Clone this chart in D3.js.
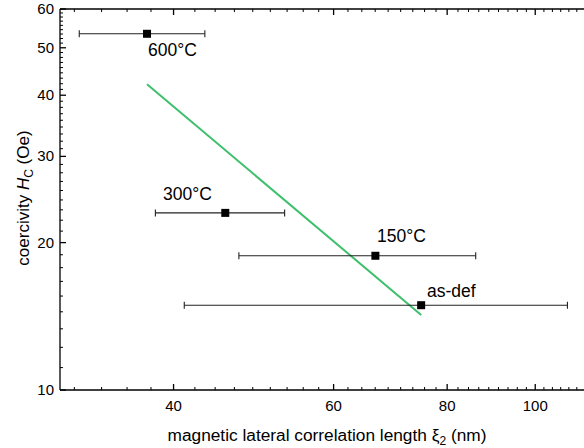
<!DOCTYPE html>
<html>
<head>
<meta charset="utf-8">
<script src="https://cdn.jsdelivr.net/npm/d3@7"></script>
<style>
  body { margin: 0; background: #fff; }
  svg { display: block; font-family: "Liberation Sans", Arial, sans-serif; }
</style>
</head>
<body>
<div id="chart"></div>
<script>
var width = 584, height = 448;

// data
var labels = ["600°C", "300°C", "150°C", "as-def"];
var xi2 = [37.4, 45.6, 66.7, 74.9];          // nm
var xiLow = [31.5, 38.2, 47.2, 41.1];
var xiHigh = [43.3, 53.0, 86.0, 108.5];
var hc = [53.4, 23.0, 18.8, 14.9];           // Oe
var fitX = [37.4, 74.9];
var fitY = [42.1, 14.23];

var xTicks = [40, 60, 80, 100];
var yTicks = [10, 20, 30, 40, 50, 60];

var svg = d3.select("#chart").append("svg").attr("width", width).attr("height", height);

var x = d3.scaleLog().domain([30, 120]).range([60, 607.2]);
var y = d3.scaleLog().domain([10, 60]).range([390, 9]);

// minor ticks: 8 between every pair of majors
var xMinor = [];
for (var m = 20; m < 120; m += 20) {
  for (var i = 1; i <= 8; i++) {
    var v = m + i * 20 / 9;
    if (v > 30 && v < 120) xMinor.push(v);
  }
}
var yMinor = [];
for (var m = 10; m < 60; m += 10) {
  for (var i = 1; i <= 8; i++) yMinor.push(m + i * 10 / 9);
}

var axisColor = "#000";
var g = svg.append("g");

// frame lines
g.append("line").attr("x1", 60).attr("x2", width).attr("y1", y(10)).attr("y2", y(10))
  .attr("stroke", axisColor).attr("stroke-width", 1.3);
g.append("line").attr("x1", 60).attr("x2", width).attr("y1", y(60)).attr("y2", y(60))
  .attr("stroke", axisColor).attr("stroke-width", 1.3);
g.append("line").attr("x1", x(30)).attr("x2", x(30)).attr("y1", y(10)).attr("y2", y(60))
  .attr("stroke", axisColor).attr("stroke-width", 1.3);

// x ticks, bottom and top, inward
[y(10), y(60)].forEach(function(yy, k) {
  var dir = k == 0 ? -1 : 1;
  g.selectAll(null).data(xMinor).enter().append("line")
    .attr("x1", d => x(d)).attr("x2", d => x(d))
    .attr("y1", yy).attr("y2", yy + dir * 3)
    .attr("stroke", axisColor).attr("stroke-width", 1);
  g.selectAll(null).data(xTicks).enter().append("line")
    .attr("x1", d => x(d)).attr("x2", d => x(d))
    .attr("y1", yy).attr("y2", yy + dir * 6)
    .attr("stroke", axisColor).attr("stroke-width", 1.3);
});

// y ticks, inward
g.selectAll(null).data(yMinor).enter().append("line")
  .attr("x1", x(30)).attr("x2", x(30) + 3)
  .attr("y1", d => y(d)).attr("y2", d => y(d))
  .attr("stroke", axisColor).attr("stroke-width", 1);
g.selectAll(null).data(yTicks).enter().append("line")
  .attr("x1", x(30)).attr("x2", x(30) + 6)
  .attr("y1", d => y(d)).attr("y2", d => y(d))
  .attr("stroke", axisColor).attr("stroke-width", 1.3);

// tick labels
g.selectAll(null).data(xTicks).enter().append("text")
  .attr("x", d => x(d)).attr("y", 411)
  .attr("text-anchor", "middle").attr("font-size", 15)
  .text(d => d);
g.selectAll(null).data(yTicks).enter().append("text")
  .attr("x", 54).attr("y", d => y(d) + 5)
  .attr("text-anchor", "end").attr("font-size", 15)
  .text(d => d);

// axis titles
var xt = svg.append("text").attr("x", 327).attr("y", 441)
  .attr("text-anchor", "middle").attr("font-size", 17.3);
xt.append("tspan").text("magnetic lateral correlation length ξ");
xt.append("tspan").attr("font-size", 12).attr("dy", 4).text("2");
xt.append("tspan").attr("dy", -4).text(" (nm)");

var yt = svg.append("text").attr("transform", "translate(29,198) rotate(-90)")
  .attr("text-anchor", "middle").attr("font-size", 17);
yt.append("tspan").text("coercivity ");
yt.append("tspan").attr("font-style", "italic").text("H");
yt.append("tspan").attr("font-size", 12).attr("dy", 4).text("C");
yt.append("tspan").attr("dy", -4).text(" (Oe)");

// fit line
svg.append("line")
  .attr("x1", x(fitX[0])).attr("y1", y(fitY[0]))
  .attr("x2", x(fitX[1])).attr("y2", y(fitY[1]))
  .attr("stroke", "#3dbf6c").attr("stroke-width", 2);

// error bars
var pts = labels.map(function(l, i) {
  return {label: l, x: xi2[i], lo: xiLow[i], hi: xiHigh[i], y: hc[i]};
});
var eb = svg.append("g").attr("stroke", "#222").attr("stroke-width", 1.1);
eb.selectAll(null).data(pts).enter().append("line")
  .attr("x1", d => x(d.lo)).attr("x2", d => x(d.hi))
  .attr("y1", d => y(d.y)).attr("y2", d => y(d.y));
eb.selectAll(null).data(pts).enter().append("line")
  .attr("x1", d => x(d.lo)).attr("x2", d => x(d.lo))
  .attr("y1", d => y(d.y) - 3.5).attr("y2", d => y(d.y) + 3.5);
eb.selectAll(null).data(pts).enter().append("line")
  .attr("x1", d => x(d.hi)).attr("x2", d => x(d.hi))
  .attr("y1", d => y(d.y) - 3.5).attr("y2", d => y(d.y) + 3.5);

svg.selectAll(null).data(pts).enter().append("rect")
  .attr("x", d => x(d.x) - 4).attr("y", d => y(d.y) - 4)
  .attr("width", 8).attr("height", 8).attr("fill", "#000");

// point labels
var labelPos = [[148, 56], [163, 200], [377, 242], [427, 297]];
svg.selectAll(null).data(pts).enter().append("text")
  .attr("x", (d, i) => labelPos[i][0]).attr("y", (d, i) => labelPos[i][1])
  .attr("font-size", 17.5)
  .text(d => d.label);
</script>
</body>
</html>
